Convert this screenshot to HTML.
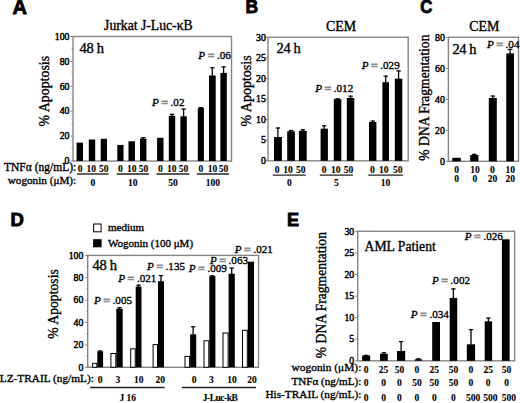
<!DOCTYPE html>
<html><head><meta charset="utf-8"><style>
html,body{margin:0;padding:0;background:#fff;}
body{width:520px;height:403px;overflow:hidden;}
svg{display:block;}
text{font-family:"Liberation Serif",serif;fill:#000;stroke:#000;stroke-width:0.35px;}
tspan.eq{fill:#6a6a6a;stroke:#8a8a8a;stroke-width:1.1px;}
text[font-weight="bold"]{stroke-width:0.1px;}
text.tl{stroke-width:0.45px;}
text.ps{font-family:"Liberation Sans",sans-serif;stroke-width:0.9px;}
</style></head><body>
<svg width="520" height="403" viewBox="0 0 520 403">
<text x="0" y="0" transform="translate(12.4,14.1) scale(1.0,1)" font-size="20" font-weight="bold" class="ps">A</text>
<text x="148.4" y="30.2" font-size="13.7" text-anchor="middle" font-weight="normal" >Jurkat J-Luc-&#954;B</text>
<rect x="73" y="36.5" width="158.5" height="124.5" fill="none" stroke="#858585" stroke-width="1.4"/>
<line x1="70.5" y1="161.0" x2="73" y2="161.0" stroke="#858585" stroke-width="1"/>
<text x="69.5" y="164.2" font-size="9.8" text-anchor="end" font-weight="normal" class="tl">0</text>
<line x1="70.5" y1="136.1" x2="73" y2="136.1" stroke="#858585" stroke-width="1"/>
<text x="69.5" y="139.3" font-size="9.8" text-anchor="end" font-weight="normal" class="tl">20</text>
<line x1="70.5" y1="111.2" x2="73" y2="111.2" stroke="#858585" stroke-width="1"/>
<text x="69.5" y="114.4" font-size="9.8" text-anchor="end" font-weight="normal" class="tl">40</text>
<line x1="70.5" y1="86.3" x2="73" y2="86.3" stroke="#858585" stroke-width="1"/>
<text x="69.5" y="89.5" font-size="9.8" text-anchor="end" font-weight="normal" class="tl">60</text>
<line x1="70.5" y1="61.4" x2="73" y2="61.4" stroke="#858585" stroke-width="1"/>
<text x="69.5" y="64.6" font-size="9.8" text-anchor="end" font-weight="normal" class="tl">80</text>
<line x1="70.5" y1="36.5" x2="73" y2="36.5" stroke="#858585" stroke-width="1"/>
<text x="69.5" y="39.7" font-size="9.8" text-anchor="end" font-weight="normal" class="tl">100</text>
<line x1="71.5" y1="148.6" x2="73" y2="148.6" stroke="#858585" stroke-width="1"/>
<line x1="71.5" y1="123.7" x2="73" y2="123.7" stroke="#858585" stroke-width="1"/>
<line x1="71.5" y1="98.8" x2="73" y2="98.8" stroke="#858585" stroke-width="1"/>
<line x1="71.5" y1="73.8" x2="73" y2="73.8" stroke="#858585" stroke-width="1"/>
<line x1="71.5" y1="49.0" x2="73" y2="49.0" stroke="#858585" stroke-width="1"/>
<text x="0" y="0" font-size="13.9" text-anchor="middle" transform="translate(48.8,91.2) rotate(-90)">% Apoptosis</text>
<text x="79.6" y="52.5" font-size="14.5" text-anchor="start" font-weight="normal" letter-spacing="-0.3">48 h</text>
<rect x="76.6" y="142.6" width="6.4" height="18.4" fill="#000"/>
<rect x="88.8" y="139.5" width="6.4" height="21.5" fill="#000"/>
<rect x="100.7" y="138.8" width="6.3" height="22.2" fill="#000"/>
<rect x="117.3" y="144.9" width="6.2" height="16.1" fill="#000"/>
<rect x="128.5" y="141.3" width="6.5" height="19.7" fill="#000"/>
<rect x="140.0" y="138.6" width="6.4" height="22.4" fill="#000"/>
<line x1="143.2" y1="137.0" x2="143.2" y2="139.1" stroke="#000" stroke-width="1.3"/>
<line x1="141.0" y1="137.6" x2="145.4" y2="137.6" stroke="#000" stroke-width="1.2"/>
<rect x="157.1" y="137.8" width="6.4" height="23.2" fill="#000"/>
<rect x="168.8" y="115.8" width="6.4" height="45.2" fill="#000"/>
<line x1="172.0" y1="113.7" x2="172.0" y2="116.3" stroke="#000" stroke-width="1.3"/>
<line x1="169.8" y1="114.3" x2="174.2" y2="114.3" stroke="#000" stroke-width="1.2"/>
<rect x="180.4" y="116.3" width="6.4" height="44.7" fill="#000"/>
<line x1="183.6" y1="108.5" x2="183.6" y2="116.8" stroke="#000" stroke-width="1.3"/>
<line x1="181.4" y1="109.1" x2="185.8" y2="109.1" stroke="#000" stroke-width="1.2"/>
<rect x="197.8" y="108.0" width="6.1" height="53.0" fill="#000"/>
<line x1="200.9" y1="107.0" x2="200.9" y2="108.5" stroke="#000" stroke-width="1.3"/>
<line x1="198.7" y1="107.6" x2="203.1" y2="107.6" stroke="#000" stroke-width="1.2"/>
<rect x="209.0" y="75.5" width="6.7" height="85.5" fill="#000"/>
<line x1="212.3" y1="67.2" x2="212.3" y2="76.0" stroke="#000" stroke-width="1.3"/>
<line x1="210.2" y1="67.8" x2="214.5" y2="67.8" stroke="#000" stroke-width="1.2"/>
<rect x="220.4" y="72.9" width="6.4" height="88.1" fill="#000"/>
<line x1="223.6" y1="66.3" x2="223.6" y2="73.4" stroke="#000" stroke-width="1.3"/>
<line x1="221.4" y1="66.9" x2="225.8" y2="66.9" stroke="#000" stroke-width="1.2"/>
<text x="152" y="106.3" font-size="11.1" text-anchor="start"><tspan font-style="italic">P</tspan><tspan class="eq"> = </tspan>.02</text>
<text x="230.8" y="58.8" font-size="11.1" text-anchor="end"><tspan font-style="italic">P</tspan><tspan class="eq"> = </tspan>.06</text>
<text x="76.2" y="171.4" font-size="11.5" text-anchor="end" font-weight="normal" >TNF&#945; (ng/mL):</text>
<text x="76.2" y="183.6" font-size="11.2" text-anchor="end" font-weight="normal" >wogonin (&#956;M):</text>
<text x="80.0" y="172" font-size="9.5" text-anchor="middle" font-weight="bold" >0</text>
<text x="91.3" y="172" font-size="9.5" text-anchor="middle" font-weight="bold" >10</text>
<text x="103.7" y="172" font-size="9.5" text-anchor="middle" font-weight="bold" >50</text>
<line x1="77" y1="174" x2="108.6" y2="174" stroke="#222" stroke-width="1.4"/>
<text x="92.8" y="186" font-size="9.5" text-anchor="middle" font-weight="bold" >0</text>
<text x="120.4" y="172" font-size="9.5" text-anchor="middle" font-weight="bold" >0</text>
<text x="131.8" y="172" font-size="9.5" text-anchor="middle" font-weight="bold" >10</text>
<text x="143.6" y="172" font-size="9.5" text-anchor="middle" font-weight="bold" >50</text>
<line x1="116.6" y1="174" x2="149" y2="174" stroke="#222" stroke-width="1.4"/>
<text x="132.8" y="186" font-size="9.5" text-anchor="middle" font-weight="bold" >10</text>
<text x="160.3" y="172" font-size="9.5" text-anchor="middle" font-weight="bold" >0</text>
<text x="171.8" y="172" font-size="9.5" text-anchor="middle" font-weight="bold" >10</text>
<text x="183.6" y="172" font-size="9.5" text-anchor="middle" font-weight="bold" >50</text>
<line x1="156.5" y1="174" x2="189.4" y2="174" stroke="#222" stroke-width="1.4"/>
<text x="172.95" y="186" font-size="9.5" text-anchor="middle" font-weight="bold" >50</text>
<text x="200.9" y="172" font-size="9.5" text-anchor="middle" font-weight="bold" >0</text>
<text x="212.4" y="172" font-size="9.5" text-anchor="middle" font-weight="bold" >10</text>
<text x="223.6" y="172" font-size="9.5" text-anchor="middle" font-weight="bold" >50</text>
<line x1="196.8" y1="174" x2="229" y2="174" stroke="#222" stroke-width="1.4"/>
<text x="212.9" y="186" font-size="9.5" text-anchor="middle" font-weight="bold" >100</text>
<text x="0" y="0" transform="translate(245.6,12.9) scale(0.94,1)" font-size="18.6" font-weight="bold" class="ps">B</text>
<text x="341" y="30.8" font-size="13.9" text-anchor="middle" font-weight="normal" >CEM</text>
<rect x="268" y="37.3" width="140.2" height="123.50000000000001" fill="none" stroke="#858585" stroke-width="1.4"/>
<line x1="265.5" y1="160.8" x2="268" y2="160.8" stroke="#858585" stroke-width="1"/>
<text x="265.8" y="164.0" font-size="9.8" text-anchor="end" font-weight="normal" class="tl">0</text>
<line x1="265.5" y1="140.2" x2="268" y2="140.2" stroke="#858585" stroke-width="1"/>
<text x="265.8" y="143.4" font-size="9.8" text-anchor="end" font-weight="normal" class="tl">5</text>
<line x1="265.5" y1="119.6" x2="268" y2="119.6" stroke="#858585" stroke-width="1"/>
<text x="265.8" y="122.8" font-size="9.8" text-anchor="end" font-weight="normal" class="tl">10</text>
<line x1="265.5" y1="99.1" x2="268" y2="99.1" stroke="#858585" stroke-width="1"/>
<text x="265.8" y="102.3" font-size="9.8" text-anchor="end" font-weight="normal" class="tl">15</text>
<line x1="265.5" y1="78.5" x2="268" y2="78.5" stroke="#858585" stroke-width="1"/>
<text x="265.8" y="81.7" font-size="9.8" text-anchor="end" font-weight="normal" class="tl">20</text>
<line x1="265.5" y1="57.9" x2="268" y2="57.9" stroke="#858585" stroke-width="1"/>
<text x="265.8" y="61.1" font-size="9.8" text-anchor="end" font-weight="normal" class="tl">25</text>
<line x1="265.5" y1="37.3" x2="268" y2="37.3" stroke="#858585" stroke-width="1"/>
<text x="265.8" y="40.5" font-size="9.8" text-anchor="end" font-weight="normal" class="tl">30</text>
<text x="0" y="0" font-size="14" text-anchor="middle" transform="translate(251,91) rotate(-90)">% Apoptosis</text>
<text x="276.6" y="53.2" font-size="14.5" text-anchor="start" font-weight="normal" letter-spacing="-0.4">24 h</text>
<rect x="274.0" y="137.0" width="7.9" height="23.8" fill="#000"/>
<line x1="277.9" y1="127.4" x2="277.9" y2="137.5" stroke="#000" stroke-width="1.3"/>
<line x1="275.8" y1="128.0" x2="280.1" y2="128.0" stroke="#000" stroke-width="1.2"/>
<rect x="287.2" y="131.3" width="7.7" height="29.5" fill="#000"/>
<line x1="291.0" y1="129.9" x2="291.0" y2="131.8" stroke="#000" stroke-width="1.3"/>
<line x1="288.8" y1="130.5" x2="293.2" y2="130.5" stroke="#000" stroke-width="1.2"/>
<rect x="298.9" y="130.8" width="7.8" height="30.0" fill="#000"/>
<line x1="302.8" y1="129.2" x2="302.8" y2="131.3" stroke="#000" stroke-width="1.3"/>
<line x1="300.6" y1="129.8" x2="305.0" y2="129.8" stroke="#000" stroke-width="1.2"/>
<rect x="320.6" y="128.7" width="7.3" height="32.1" fill="#000"/>
<line x1="324.2" y1="125.2" x2="324.2" y2="129.2" stroke="#000" stroke-width="1.3"/>
<line x1="322.1" y1="125.8" x2="326.4" y2="125.8" stroke="#000" stroke-width="1.2"/>
<rect x="333.8" y="99.1" width="7.5" height="61.7" fill="#000"/>
<line x1="337.6" y1="98.2" x2="337.6" y2="99.6" stroke="#000" stroke-width="1.3"/>
<line x1="335.4" y1="98.8" x2="339.8" y2="98.8" stroke="#000" stroke-width="1.2"/>
<rect x="346.8" y="97.9" width="7.5" height="62.9" fill="#000"/>
<line x1="350.6" y1="95.6" x2="350.6" y2="98.4" stroke="#000" stroke-width="1.3"/>
<line x1="348.4" y1="96.2" x2="352.8" y2="96.2" stroke="#000" stroke-width="1.2"/>
<rect x="369.0" y="122.0" width="7.4" height="38.8" fill="#000"/>
<line x1="372.7" y1="120.5" x2="372.7" y2="122.5" stroke="#000" stroke-width="1.3"/>
<line x1="370.5" y1="121.1" x2="374.9" y2="121.1" stroke="#000" stroke-width="1.2"/>
<rect x="382.4" y="82.2" width="6.6" height="78.6" fill="#000"/>
<line x1="385.7" y1="75.6" x2="385.7" y2="82.7" stroke="#000" stroke-width="1.3"/>
<line x1="383.5" y1="76.2" x2="387.9" y2="76.2" stroke="#000" stroke-width="1.2"/>
<rect x="394.8" y="78.7" width="7.5" height="82.1" fill="#000"/>
<line x1="398.6" y1="70.3" x2="398.6" y2="79.2" stroke="#000" stroke-width="1.3"/>
<line x1="396.4" y1="70.9" x2="400.8" y2="70.9" stroke="#000" stroke-width="1.2"/>
<text x="315.2" y="92.1" font-size="11.1" text-anchor="start"><tspan font-style="italic">P</tspan><tspan class="eq"> = </tspan>.012</text>
<text x="361.7" y="68.6" font-size="11.1" text-anchor="start"><tspan font-style="italic">P</tspan><tspan class="eq"> = </tspan>.029</text>
<text x="277.1" y="172.5" font-size="9.5" text-anchor="middle" font-weight="bold" >0</text>
<text x="288.0" y="172.5" font-size="9.5" text-anchor="middle" font-weight="bold" >10</text>
<text x="300.8" y="172.5" font-size="9.5" text-anchor="middle" font-weight="bold" >50</text>
<line x1="272.8" y1="175.1" x2="305.8" y2="175.1" stroke="#222" stroke-width="1.4"/>
<text x="289.3" y="185.6" font-size="9.5" text-anchor="middle" font-weight="bold" >0</text>
<text x="324.1" y="172.5" font-size="9.5" text-anchor="middle" font-weight="bold" >0</text>
<text x="335.7" y="172.5" font-size="9.5" text-anchor="middle" font-weight="bold" >10</text>
<text x="348.6" y="172.5" font-size="9.5" text-anchor="middle" font-weight="bold" >50</text>
<line x1="319.8" y1="175.1" x2="353" y2="175.1" stroke="#222" stroke-width="1.4"/>
<text x="336.4" y="185.6" font-size="9.5" text-anchor="middle" font-weight="bold" >5</text>
<text x="372.3" y="172.5" font-size="9.5" text-anchor="middle" font-weight="bold" >0</text>
<text x="383.8" y="172.5" font-size="9.5" text-anchor="middle" font-weight="bold" >10</text>
<text x="397.7" y="172.5" font-size="9.5" text-anchor="middle" font-weight="bold" >50</text>
<line x1="368.3" y1="175.1" x2="402.9" y2="175.1" stroke="#222" stroke-width="1.4"/>
<text x="385.6" y="185.6" font-size="9.5" text-anchor="middle" font-weight="bold" >10</text>
<text x="0" y="0" transform="translate(420.3,13.2) scale(0.9,1)" font-size="18.6" font-weight="bold" class="ps">C</text>
<text x="484.2" y="30.9" font-size="13.9" text-anchor="middle" font-weight="normal" >CEM</text>
<rect x="448.4" y="37.3" width="70.10000000000002" height="124.00000000000001" fill="none" stroke="#858585" stroke-width="1.4"/>
<line x1="445.9" y1="161.3" x2="448.4" y2="161.3" stroke="#858585" stroke-width="1"/>
<text x="444.9" y="164.5" font-size="9.8" text-anchor="end" font-weight="normal" class="tl">0</text>
<line x1="445.9" y1="130.3" x2="448.4" y2="130.3" stroke="#858585" stroke-width="1"/>
<text x="444.9" y="133.5" font-size="9.8" text-anchor="end" font-weight="normal" class="tl">20</text>
<line x1="445.9" y1="99.3" x2="448.4" y2="99.3" stroke="#858585" stroke-width="1"/>
<text x="444.9" y="102.5" font-size="9.8" text-anchor="end" font-weight="normal" class="tl">40</text>
<line x1="445.9" y1="68.3" x2="448.4" y2="68.3" stroke="#858585" stroke-width="1"/>
<text x="444.9" y="71.5" font-size="9.8" text-anchor="end" font-weight="normal" class="tl">60</text>
<line x1="445.9" y1="37.3" x2="448.4" y2="37.3" stroke="#858585" stroke-width="1"/>
<text x="444.9" y="40.5" font-size="9.8" text-anchor="end" font-weight="normal" class="tl">80</text>
<text x="0" y="0" font-size="13.6" text-anchor="middle" transform="translate(429.0,97.6) rotate(-90)">% DNA Fragmentation</text>
<text x="452.4" y="54.1" font-size="14.5" text-anchor="start" font-weight="normal" letter-spacing="-0.4">24 h</text>
<rect x="452.3" y="157.8" width="8.5" height="3.5" fill="#000"/>
<rect x="470.2" y="155.0" width="8.2" height="6.3" fill="#000"/>
<line x1="474.3" y1="153.8" x2="474.3" y2="155.5" stroke="#000" stroke-width="1.3"/>
<line x1="472.1" y1="154.4" x2="476.5" y2="154.4" stroke="#000" stroke-width="1.2"/>
<rect x="488.8" y="98.0" width="8.0" height="63.3" fill="#000"/>
<line x1="492.8" y1="95.5" x2="492.8" y2="98.5" stroke="#000" stroke-width="1.3"/>
<line x1="490.6" y1="96.1" x2="495.0" y2="96.1" stroke="#000" stroke-width="1.2"/>
<rect x="506.3" y="53.4" width="7.7" height="107.9" fill="#000"/>
<line x1="510.1" y1="48.8" x2="510.1" y2="53.9" stroke="#000" stroke-width="1.3"/>
<line x1="507.9" y1="49.4" x2="512.4" y2="49.4" stroke="#000" stroke-width="1.2"/>
<text x="487" y="47.5" font-size="11.1" text-anchor="start"><tspan font-style="italic">P</tspan><tspan class="eq"> = </tspan>.04</text>
<text x="456.5" y="172.5" font-size="9.5" text-anchor="middle" font-weight="bold" >0</text>
<text x="456.5" y="182.2" font-size="9.5" text-anchor="middle" font-weight="bold" >0</text>
<text x="474.9" y="172.5" font-size="9.5" text-anchor="middle" font-weight="bold" >10</text>
<text x="474.9" y="182.2" font-size="9.5" text-anchor="middle" font-weight="bold" >0</text>
<text x="492.4" y="172.5" font-size="9.5" text-anchor="middle" font-weight="bold" >0</text>
<text x="492.4" y="182.2" font-size="9.5" text-anchor="middle" font-weight="bold" >20</text>
<text x="510.3" y="172.5" font-size="9.5" text-anchor="middle" font-weight="bold" >10</text>
<text x="510.3" y="182.2" font-size="9.5" text-anchor="middle" font-weight="bold" >20</text>
<text x="0" y="0" transform="translate(10.6,226.3) scale(1.0,1)" font-size="18.5" font-weight="bold" class="ps">D</text>
<rect x="93.6" y="224" width="7.5" height="7.8" fill="#fff" stroke="#000" stroke-width="1"/>
<rect x="93.1" y="239.2" width="8.5" height="8.1" fill="#000"/>
<text x="108" y="230.7" font-size="11" text-anchor="start" font-weight="normal" >medium</text>
<text x="108" y="246.6" font-size="11" text-anchor="start" font-weight="normal" >Wogonin (100 &#956;M)</text>
<rect x="87.7" y="255.4" width="170.8" height="111.9" fill="none" stroke="#858585" stroke-width="1.4"/>
<line x1="85.2" y1="367.3" x2="87.7" y2="367.3" stroke="#858585" stroke-width="1"/>
<text x="83.4" y="370.5" font-size="9.8" text-anchor="end" font-weight="normal" class="tl">0</text>
<line x1="85.2" y1="344.9" x2="87.7" y2="344.9" stroke="#858585" stroke-width="1"/>
<text x="83.4" y="348.1" font-size="9.8" text-anchor="end" font-weight="normal" class="tl">20</text>
<line x1="85.2" y1="322.5" x2="87.7" y2="322.5" stroke="#858585" stroke-width="1"/>
<text x="83.4" y="325.7" font-size="9.8" text-anchor="end" font-weight="normal" class="tl">40</text>
<line x1="85.2" y1="300.2" x2="87.7" y2="300.2" stroke="#858585" stroke-width="1"/>
<text x="83.4" y="303.4" font-size="9.8" text-anchor="end" font-weight="normal" class="tl">60</text>
<line x1="85.2" y1="277.8" x2="87.7" y2="277.8" stroke="#858585" stroke-width="1"/>
<text x="83.4" y="281.0" font-size="9.8" text-anchor="end" font-weight="normal" class="tl">80</text>
<line x1="85.2" y1="255.4" x2="87.7" y2="255.4" stroke="#858585" stroke-width="1"/>
<text x="83.4" y="258.6" font-size="9.8" text-anchor="end" font-weight="normal" class="tl">100</text>
<line x1="86.2" y1="356.1" x2="87.7" y2="356.1" stroke="#858585" stroke-width="1"/>
<line x1="86.2" y1="333.7" x2="87.7" y2="333.7" stroke="#858585" stroke-width="1"/>
<line x1="86.2" y1="311.4" x2="87.7" y2="311.4" stroke="#858585" stroke-width="1"/>
<line x1="86.2" y1="289.0" x2="87.7" y2="289.0" stroke="#858585" stroke-width="1"/>
<line x1="86.2" y1="266.6" x2="87.7" y2="266.6" stroke="#858585" stroke-width="1"/>
<text x="0" y="0" font-size="13.7" text-anchor="middle" transform="translate(57.8,304) rotate(-90)">% Apoptosis</text>
<text x="92.6" y="269.7" font-size="14.5" text-anchor="start" font-weight="normal" letter-spacing="-0.3">48 h</text>
<rect x="92.6" y="363.4" width="4.2" height="3.9" fill="#fff" stroke="#000" stroke-width="1"/>
<rect x="97.3" y="351.4" width="5.8" height="15.9" fill="#000"/>
<line x1="100.2" y1="350.4" x2="100.2" y2="351.9" stroke="#000" stroke-width="1.3"/>
<line x1="98.0" y1="351.0" x2="102.4" y2="351.0" stroke="#000" stroke-width="1.2"/>
<rect x="110.9" y="353.5" width="4.9" height="13.8" fill="#fff" stroke="#000" stroke-width="1"/>
<rect x="116.3" y="308.7" width="6.4" height="58.6" fill="#000"/>
<line x1="119.5" y1="307.1" x2="119.5" y2="309.2" stroke="#000" stroke-width="1.3"/>
<line x1="117.3" y1="307.7" x2="121.7" y2="307.7" stroke="#000" stroke-width="1.2"/>
<rect x="130.7" y="348.8" width="4.5" height="18.5" fill="#fff" stroke="#000" stroke-width="1"/>
<rect x="135.7" y="286.6" width="5.8" height="80.7" fill="#000"/>
<line x1="138.6" y1="284.6" x2="138.6" y2="287.1" stroke="#000" stroke-width="1.3"/>
<line x1="136.4" y1="285.2" x2="140.8" y2="285.2" stroke="#000" stroke-width="1.2"/>
<rect x="153.1" y="344.6" width="4.4" height="22.7" fill="#fff" stroke="#000" stroke-width="1"/>
<rect x="158.0" y="281.2" width="6.0" height="86.1" fill="#000"/>
<line x1="161.0" y1="275.0" x2="161.0" y2="281.7" stroke="#000" stroke-width="1.3"/>
<line x1="158.8" y1="275.6" x2="163.2" y2="275.6" stroke="#000" stroke-width="1.2"/>
<rect x="185.0" y="356.4" width="4.6" height="10.9" fill="#fff" stroke="#000" stroke-width="1"/>
<rect x="190.1" y="334.3" width="6.1" height="33.0" fill="#000"/>
<line x1="193.1" y1="326.2" x2="193.1" y2="334.8" stroke="#000" stroke-width="1.3"/>
<line x1="190.9" y1="326.8" x2="195.3" y2="326.8" stroke="#000" stroke-width="1.2"/>
<rect x="204.0" y="340.8" width="4.8" height="26.5" fill="#fff" stroke="#000" stroke-width="1"/>
<rect x="209.3" y="276.2" width="6.1" height="91.1" fill="#000"/>
<line x1="212.4" y1="275.2" x2="212.4" y2="276.7" stroke="#000" stroke-width="1.3"/>
<line x1="210.2" y1="275.8" x2="214.6" y2="275.8" stroke="#000" stroke-width="1.2"/>
<rect x="223.0" y="333.0" width="5.1" height="34.3" fill="#fff" stroke="#000" stroke-width="1"/>
<rect x="228.6" y="273.7" width="6.2" height="93.6" fill="#000"/>
<line x1="231.7" y1="267.5" x2="231.7" y2="274.2" stroke="#000" stroke-width="1.3"/>
<line x1="229.5" y1="268.1" x2="233.9" y2="268.1" stroke="#000" stroke-width="1.2"/>
<rect x="242.5" y="330.3" width="4.8" height="37.0" fill="#fff" stroke="#000" stroke-width="1"/>
<rect x="247.8" y="261.7" width="6.2" height="105.6" fill="#000"/>
<text x="94" y="304.3" font-size="11.1" text-anchor="start"><tspan font-style="italic">P</tspan><tspan class="eq"> = </tspan>.005</text>
<text x="156.3" y="281.8" font-size="11.1" text-anchor="end"><tspan font-style="italic">P</tspan><tspan class="eq"> = </tspan>.021</text>
<text x="147" y="270" font-size="11.1" text-anchor="start"><tspan font-style="italic">P</tspan><tspan class="eq"> = </tspan>.135</text>
<text x="188.8" y="272" font-size="11.1" text-anchor="start"><tspan font-style="italic">P</tspan><tspan class="eq"> = </tspan>.009</text>
<text x="210" y="263.8" font-size="11.1" text-anchor="start"><tspan font-style="italic">P</tspan><tspan class="eq"> = </tspan>.063</text>
<text x="234.8" y="252.5" font-size="11.1" text-anchor="start"><tspan font-style="italic">P</tspan><tspan class="eq"> = </tspan>.021</text>
<text x="93.8" y="382" font-size="11.3" text-anchor="end" font-weight="normal" >LZ-TRAIL (ng/mL):</text>
<text x="100.1" y="382.8" font-size="9.5" text-anchor="middle" font-weight="bold" >0</text>
<text x="117.9" y="382.8" font-size="9.5" text-anchor="middle" font-weight="bold" >3</text>
<text x="138.7" y="382.8" font-size="9.5" text-anchor="middle" font-weight="bold" >10</text>
<text x="160.3" y="382.8" font-size="9.5" text-anchor="middle" font-weight="bold" >20</text>
<text x="194" y="382.8" font-size="9.5" text-anchor="middle" font-weight="bold" >0</text>
<text x="211.3" y="382.8" font-size="9.5" text-anchor="middle" font-weight="bold" >3</text>
<text x="232.1" y="382.8" font-size="9.5" text-anchor="middle" font-weight="bold" >10</text>
<text x="252" y="382.8" font-size="9.5" text-anchor="middle" font-weight="bold" >20</text>
<line x1="90.2" y1="387.5" x2="164.6" y2="387.5" stroke="#222" stroke-width="1.4"/>
<line x1="181.9" y1="387.5" x2="256" y2="387.5" stroke="#222" stroke-width="1.4"/>
<text x="127.8" y="400.5" font-size="9.5" text-anchor="middle" font-weight="bold" >J 16</text>
<text x="220" y="400.5" font-size="9.5" text-anchor="middle" font-weight="bold" letter-spacing="-0.5">J-Luc-kB</text>
<text x="0" y="0" transform="translate(287,226.3) scale(1.0,1)" font-size="18" font-weight="bold" class="ps">E</text>
<rect x="357.7" y="231.3" width="156.90000000000003" height="129.5" fill="none" stroke="#858585" stroke-width="1.4"/>
<line x1="355.2" y1="360.8" x2="357.7" y2="360.8" stroke="#858585" stroke-width="1"/>
<text x="354.2" y="364.0" font-size="9.8" text-anchor="end" font-weight="normal" class="tl">0</text>
<line x1="355.2" y1="339.2" x2="357.7" y2="339.2" stroke="#858585" stroke-width="1"/>
<text x="354.2" y="342.4" font-size="9.8" text-anchor="end" font-weight="normal" class="tl">5</text>
<line x1="355.2" y1="317.6" x2="357.7" y2="317.6" stroke="#858585" stroke-width="1"/>
<text x="354.2" y="320.8" font-size="9.8" text-anchor="end" font-weight="normal" class="tl">10</text>
<line x1="355.2" y1="296.1" x2="357.7" y2="296.1" stroke="#858585" stroke-width="1"/>
<text x="354.2" y="299.2" font-size="9.8" text-anchor="end" font-weight="normal" class="tl">15</text>
<line x1="355.2" y1="274.5" x2="357.7" y2="274.5" stroke="#858585" stroke-width="1"/>
<text x="354.2" y="277.7" font-size="9.8" text-anchor="end" font-weight="normal" class="tl">20</text>
<line x1="355.2" y1="252.9" x2="357.7" y2="252.9" stroke="#858585" stroke-width="1"/>
<text x="354.2" y="256.1" font-size="9.8" text-anchor="end" font-weight="normal" class="tl">25</text>
<line x1="355.2" y1="231.3" x2="357.7" y2="231.3" stroke="#858585" stroke-width="1"/>
<text x="354.2" y="234.5" font-size="9.8" text-anchor="end" font-weight="normal" class="tl">30</text>
<text x="0" y="0" font-size="13.6" text-anchor="middle" transform="translate(325.8,295.1) rotate(-90)">% DNA Fragmentation</text>
<text x="364.5" y="251.4" font-size="13.7" text-anchor="start" font-weight="normal" >AML Patient</text>
<rect x="362.1" y="355.5" width="8.1" height="5.3" fill="#000"/>
<line x1="366.1" y1="354.8" x2="366.1" y2="356.0" stroke="#000" stroke-width="1.3"/>
<line x1="363.9" y1="355.4" x2="368.3" y2="355.4" stroke="#000" stroke-width="1.2"/>
<rect x="380.0" y="353.7" width="7.8" height="7.1" fill="#000"/>
<line x1="383.9" y1="352.1" x2="383.9" y2="354.2" stroke="#000" stroke-width="1.3"/>
<line x1="381.7" y1="352.7" x2="386.1" y2="352.7" stroke="#000" stroke-width="1.2"/>
<rect x="397.0" y="351.0" width="8.2" height="9.8" fill="#000"/>
<line x1="401.1" y1="341.0" x2="401.1" y2="351.5" stroke="#000" stroke-width="1.3"/>
<line x1="398.9" y1="341.6" x2="403.3" y2="341.6" stroke="#000" stroke-width="1.2"/>
<rect x="414.8" y="359.3" width="7.2" height="1.5" fill="#000"/>
<line x1="418.4" y1="358.2" x2="418.4" y2="359.8" stroke="#000" stroke-width="1.3"/>
<line x1="416.2" y1="358.8" x2="420.6" y2="358.8" stroke="#000" stroke-width="1.2"/>
<rect x="432.2" y="322.0" width="7.8" height="38.8" fill="#000"/>
<rect x="449.7" y="297.9" width="7.5" height="62.9" fill="#000"/>
<line x1="453.4" y1="288.3" x2="453.4" y2="298.4" stroke="#000" stroke-width="1.3"/>
<line x1="451.2" y1="288.9" x2="455.6" y2="288.9" stroke="#000" stroke-width="1.2"/>
<rect x="466.8" y="344.3" width="8.3" height="16.5" fill="#000"/>
<line x1="471.0" y1="329.1" x2="471.0" y2="344.8" stroke="#000" stroke-width="1.3"/>
<line x1="468.8" y1="329.7" x2="473.2" y2="329.7" stroke="#000" stroke-width="1.2"/>
<rect x="484.7" y="321.3" width="7.4" height="39.5" fill="#000"/>
<line x1="488.4" y1="317.5" x2="488.4" y2="321.8" stroke="#000" stroke-width="1.3"/>
<line x1="486.2" y1="318.1" x2="490.6" y2="318.1" stroke="#000" stroke-width="1.2"/>
<rect x="501.9" y="239.3" width="7.7" height="121.5" fill="#000"/>
<text x="464.8" y="239.5" font-size="11.1" text-anchor="start"><tspan font-style="italic">P</tspan><tspan class="eq"> = </tspan>.026</text>
<text x="432" y="283.6" font-size="11.1" text-anchor="start"><tspan font-style="italic">P</tspan><tspan class="eq"> = </tspan>.002</text>
<text x="410.8" y="317.5" font-size="11.1" text-anchor="start"><tspan font-style="italic">P</tspan><tspan class="eq"> = </tspan>.034</text>
<text x="361.3" y="371.3" font-size="11.4" text-anchor="end" font-weight="normal" >wogonin (&#956;M):</text>
<text x="361.3" y="384.5" font-size="11.15" text-anchor="end" font-weight="normal" >TNF&#945; (ng/mL):</text>
<text x="361.3" y="398" font-size="11.3" text-anchor="end" font-weight="normal" >His-TRAIL (ng/mL):</text>
<text x="366.1" y="372.8" font-size="9.5" text-anchor="middle" font-weight="bold" >0</text>
<text x="366.1" y="386.3" font-size="9.5" text-anchor="middle" font-weight="bold" >0</text>
<text x="366.1" y="400.9" font-size="9.5" text-anchor="middle" font-weight="bold" >0</text>
<text x="383.6" y="372.8" font-size="9.5" text-anchor="middle" font-weight="bold" >25</text>
<text x="383.6" y="386.3" font-size="9.5" text-anchor="middle" font-weight="bold" >0</text>
<text x="383.6" y="400.9" font-size="9.5" text-anchor="middle" font-weight="bold" >0</text>
<text x="399.4" y="372.8" font-size="9.5" text-anchor="middle" font-weight="bold" >50</text>
<text x="399.4" y="386.3" font-size="9.5" text-anchor="middle" font-weight="bold" >0</text>
<text x="399.4" y="400.9" font-size="9.5" text-anchor="middle" font-weight="bold" >0</text>
<text x="416.9" y="372.8" font-size="9.5" text-anchor="middle" font-weight="bold" >0</text>
<text x="416.9" y="386.3" font-size="9.5" text-anchor="middle" font-weight="bold" >50</text>
<text x="416.9" y="400.9" font-size="9.5" text-anchor="middle" font-weight="bold" >0</text>
<text x="434.3" y="372.8" font-size="9.5" text-anchor="middle" font-weight="bold" >25</text>
<text x="434.3" y="386.3" font-size="9.5" text-anchor="middle" font-weight="bold" >50</text>
<text x="434.3" y="400.9" font-size="9.5" text-anchor="middle" font-weight="bold" >0</text>
<text x="453.4" y="372.8" font-size="9.5" text-anchor="middle" font-weight="bold" >50</text>
<text x="453.4" y="386.3" font-size="9.5" text-anchor="middle" font-weight="bold" >50</text>
<text x="453.4" y="400.9" font-size="9.5" text-anchor="middle" font-weight="bold" >0</text>
<text x="470.8" y="372.8" font-size="9.5" text-anchor="middle" font-weight="bold" >0</text>
<text x="470.8" y="386.3" font-size="9.5" text-anchor="middle" font-weight="bold" >0</text>
<text x="473.0" y="400.9" font-size="9.5" text-anchor="middle" font-weight="bold" >500</text>
<text x="488.2" y="372.8" font-size="9.5" text-anchor="middle" font-weight="bold" >25</text>
<text x="488.2" y="386.3" font-size="9.5" text-anchor="middle" font-weight="bold" >0</text>
<text x="490.4" y="400.9" font-size="9.5" text-anchor="middle" font-weight="bold" >500</text>
<text x="506.6" y="372.8" font-size="9.5" text-anchor="middle" font-weight="bold" >50</text>
<text x="506.6" y="386.3" font-size="9.5" text-anchor="middle" font-weight="bold" >0</text>
<text x="508.8" y="400.9" font-size="9.5" text-anchor="middle" font-weight="bold" >500</text>
</svg>
</body></html>
